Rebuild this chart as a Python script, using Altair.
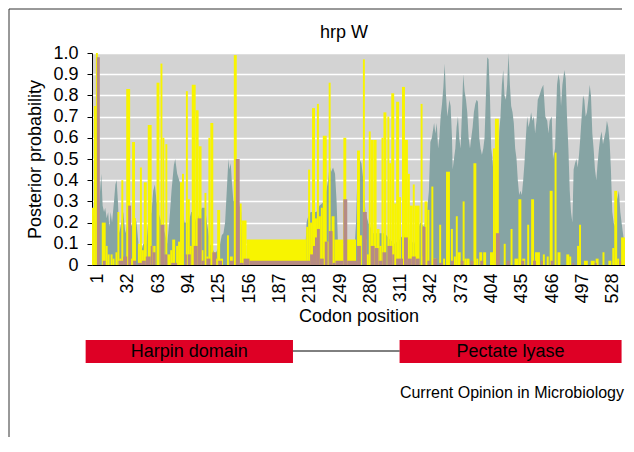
import altair as alt
import pandas as pd

# ---------------- data ----------------
chart_title = "hrp W"
credit = "Current Opinion in Microbiology"
x_ticks = [1, 32, 63, 94, 125, 156, 187, 218, 249, 280, 311, 342, 373, 404, 435, 466, 497, 528]
y_ticks = [0, 0.1, 0.2, 0.3, 0.4, 0.5, 0.6, 0.7, 0.8, 0.9, 1.0]

# grey-teal area series: vertices (codon, posterior probability)
teal_codon = [1, 4, 8, 10, 11.4, 12.8, 14, 15.5, 17, 18.2, 19.6, 21, 23, 24.4, 25.7, 27, 28.4, 30.5, 32.5, 34.5,
              37, 40, 42.7, 44.8, 46, 48, 50, 53, 56, 58, 61.4, 63.1, 64.8, 66.5, 68.2, 71.6, 75, 77.4, 79.5, 81.8,
              84.2, 85.6, 87.6, 89.7, 91, 92, 95, 99.2, 102, 104.3, 107, 112.8, 116.2, 118, 121.3, 126.4, 131.5, 133.2, 134.9, 136.6,
              138.3, 140, 141, 142.4, 143.4, 145.1, 148, 150.2, 153, 154.3, 156, 218, 219.9, 221, 224, 230, 233, 238, 242, 243.4,
              245, 247, 249, 250.6, 252, 254, 268, 270.5, 272, 274, 276, 278, 280, 283, 288, 295, 300, 305, 310, 315,
              320, 325, 330, 333, 336, 340, 343, 345, 346.5, 348, 350.3, 351.6, 353, 354.4, 355.7, 357, 358.4, 359.8, 361.1, 362.5,
              363.8, 365.2, 365.9, 367.2, 368.6, 369.3, 370.6, 372, 373.3, 374.7, 376, 377.4, 378.8, 380.1, 381.5, 382.9, 384.2, 385.6, 387, 388.3,
              389.7, 391, 392.4, 393.8, 395.1, 396.5, 397.8, 399.2, 400.6, 401.9, 403.3, 404.6, 406, 407.4, 408.7, 410, 411.4, 415.5, 416.9, 418.2,
              419.6, 421, 422.3, 423.7, 425, 426.4, 427.8, 429.1, 430.5, 431.8, 433.2, 434.6, 435.9, 437.3, 438.6, 440, 441.4, 442.7, 444.1, 445.5,
              446.8, 448.2, 449.5, 450.9, 452.3, 453.6, 455, 456.3, 458, 460, 462, 464, 466, 467.2, 468.5, 470.6, 471.9, 474, 476, 477.4,
              478.7, 480.1, 481.5, 483.5, 484.9, 486.2, 487.6, 489, 490.3, 491.7, 493, 494.4, 495.8, 497.1, 498.5, 499.8, 501.2, 502.6, 503.9, 505.3,
              506.6, 508, 509.4, 510.7, 512.1, 513.4, 514.8, 516.2, 517.5, 518.9, 520.2, 521.6, 523, 524.3, 525.7, 527, 528.4, 529.8, 531.1, 532.5,
              533.9, 535.2, 536.6, 537.9, 539.3, 540.7, 542, 543.4, 545]
teal_value = [0.25, 0.2, 0.3, 0.43, 0.28, 0.25, 0.27, 0.22, 0.25, 0.18, 0.25, 0.2, 0.3, 0.38, 0.4, 0.3, 0.15, 0.2, 0.25, 0.15,
              0.2, 0.18, 0.2, 0.22, 0.2, 0.1, 0.05, 0.1, 0.1, 0.2, 0.25, 0.35, 0.38, 0.3, 0.25, 0.2, 0.15, 0.1, 0.2, 0.35,
              0.47, 0.5, 0.43, 0.4, 0.38, 0.3, 0.2, 0.2, 0.25, 0.25, 0.2, 0.27, 0.27, 0.2, 0.1, 0.05, 0.1, 0.14, 0.15, 0.2,
              0.35, 0.5, 0.45, 0.48, 0.4, 0.3, 0.33, 0.3, 0.25, 0.05, 0, 0, 0.2, 0.22, 0.25, 0.25, 0.28, 0.3, 0.4, 0.47,
              0.44, 0.46, 0.43, 0.3, 0.1, 0, 0, 0.2, 0.45, 0.5, 0.48, 0.4, 0.25, 0.2, 0.15, 0.15, 0.15, 0.12, 0.1, 0.12,
              0.15, 0.12, 0.1, 0.15, 0.2, 0.18, 0.25, 0.35, 0.58, 0.6, 0.67, 0.62, 0.67, 0.55, 0.6, 0.7, 0.76, 0.84, 0.95, 0.8,
              0.7, 0.75, 0.78, 0.75, 0.6, 0.45, 0.5, 0.55, 0.65, 0.7, 0.6, 0.55, 0.72, 0.9, 0.82, 0.78, 0.72, 0.6, 0.55, 0.6,
              0.65, 0.72, 0.76, 0.78, 0.77, 0.6, 0.55, 0.52, 0.55, 0.6, 0.8, 0.98, 0.97, 0.8, 0.55, 0.5, 0.4, 0.4, 0.63, 0.7,
              0.85, 0.92, 0.8, 0.78, 0.85, 1.0, 0.85, 0.75, 0.72, 0.67, 0.55, 0.5, 0.4, 0.33, 0.35, 0.33, 0.4, 0.48, 0.6, 0.7,
              0.65, 0.68, 0.72, 0.68, 0.7, 0.62, 0.68, 0.78, 0.8, 0.83, 0.85, 0.7, 0.68, 0.62, 0.68, 0.7, 0.5, 0.55, 0.85, 0.9,
              0.87, 0.75, 0.85, 0.92, 0.88, 0.7, 0.55, 0.35, 0.25, 0.2, 0.45, 0.48, 0.5, 0.46, 0.52, 0.6, 0.7, 0.8, 0.78, 0.7,
              0.72, 0.78, 0.85, 0.8, 0.62, 0.55, 0.45, 0.4, 0.48, 0.55, 0.6, 0.63, 0.57, 0.6, 0.63, 0.68, 0.65, 0.58, 0.45, 0.25,
              0.2, 0.18, 0.3, 0.32, 0.35, 0.25, 0.2, 0.15, 0.1]

# yellow bar series: runs of codons (first, last) with their value
yellow_first = [1, 3, 5, 11, 15, 17, 20, 22, 25, 27, 29, 31, 36, 40, 42, 45, 48, 50, 52, 54,
                58, 62, 64, 67, 71, 73, 76, 78, 81, 83, 87, 89, 91, 93, 97, 99, 101, 103, 107, 110,
                113, 116, 118, 120, 122, 125, 127, 129, 132, 139, 142, 146, 152, 154, 159, 220, 222, 224, 226, 229,
                231, 233, 235, 237, 241, 243, 246, 249, 258, 261, 272, 275, 278, 280, 282, 284, 286, 289, 292, 295,
                297, 299, 303, 305, 307, 310, 312, 315, 318, 321, 324, 326, 329, 331, 337, 339, 341, 344, 348, 350,
                356, 360, 363, 368, 371, 373, 375, 380, 382, 384, 391, 394, 397, 401, 408, 411, 413, 422, 429, 433,
                437, 441, 446, 450, 454, 456, 462, 466, 469, 474, 477, 486, 489, 497, 499, 504, 511, 516, 523, 529,
                533, 535, 538, 542]
yellow_last = [2, 4, 6, 14, 16, 18, 21, 23, 26, 28, 30, 32, 39, 41, 44, 45, 49, 51, 53, 56,
               61, 63, 65, 69, 72, 74, 77, 80, 82, 85, 88, 90, 92, 94, 98, 100, 102, 106, 109, 112,
               114, 117, 119, 121, 124, 126, 128, 131, 134, 140, 144, 148, 153, 158, 219, 221, 223, 225, 228, 230,
               232, 234, 236, 240, 242, 244, 248, 257, 260, 270, 274, 276, 279, 281, 283, 285, 288, 291, 294, 296,
               298, 301, 304, 306, 309, 311, 314, 316, 320, 323, 325, 328, 330, 335, 338, 340, 343, 345, 349, 352,
               357, 361, 366, 369, 372, 374, 377, 381, 383, 386, 393, 395, 399, 403, 410, 412, 416, 423, 430, 436,
               439, 443, 447, 452, 455, 458, 463, 467, 471, 475, 479, 488, 490, 498, 500, 507, 514, 518, 524, 531,
               534, 537, 539, 545]
yellow_value = [0.27, 0.75, 1.0, 0.2, 0.09, 0.05, 0.05, 0.03, 0.06, 0.25, 0.03, 0.4, 0.83, 0.03, 0.58, 0.22, 0.1, 0.46, 0.07, 0.39,
                0.66, 0.09, 0.09, 0.86, 0.95, 0.6, 0.57, 0.05, 0.07, 0.12, 0.09, 0.11, 0.39, 0.43, 0.82, 0.31, 0.09, 0.85, 0.73, 0.56,
                0.07, 0.34, 0.04, 0.6, 0.67, 0.06, 0.03, 0.26, 0.03, 0.14, 0.04, 0.99, 0.29, 0.21, 0.12, 0.18, 0.45, 0.2, 0.74, 0.22,
                0.76, 0.23, 0.27, 0.61, 0.11, 0.86, 0.23, 0.12, 0.6, 0.12, 0.54, 0.14, 0.97, 0.12, 0.05, 0.63, 0.59, 0.59, 0.17, 0.09,
                0.6, 0.72, 0.7, 0.48, 0.81, 0.29, 0.77, 0.32, 0.84, 0.59, 0.43, 0.28, 0.38, 0.28, 0.76, 0.04, 0.3, 0.26, 0.37, 0.03,
                0.19, 0.03, 0.44, 0.17, 0.04, 0.23, 0.06, 0.3, 0.03, 0.03, 0.48, 0.03, 0.06, 0.06, 0.06, 0.55, 0.69, 0.1, 0.17, 0.03,
                0.31, 0.03, 0.19, 0.31, 0.06, 0.06, 0.05, 0.04, 0.35, 0.53, 0.06, 0.05, 0.04, 0.09, 0.19, 0.02, 0.02, 0.03, 0.06, 0.02,
                0.08, 0.35, 0.03, 0.13]

# mauve bar series: runs of codons (first, last) with their value
brown_first = [6, 12, 28, 33, 38, 43, 48, 52, 56, 61, 63, 71, 75, 82, 96, 99, 105, 109, 113, 118,
               124, 130, 142, 148, 152, 156, 162, 224, 227, 229, 231, 234, 239, 243, 247, 250, 258, 262, 272, 278,
               286, 290, 294, 298, 303, 308, 312, 320, 324, 328, 332, 339, 344, 350, 356, 368, 378, 388, 398, 414,
               425, 440, 452, 460, 470, 492, 515, 540]
brown_last = [8, 14, 32, 36, 40, 45, 51, 55, 60, 62, 65, 74, 77, 87, 97, 101, 108, 112, 115, 121,
              127, 133, 145, 151, 155, 161, 223, 226, 228, 230, 233, 237, 241, 246, 249, 257, 261, 271, 275, 281,
              289, 293, 297, 301, 307, 309, 318, 323, 327, 331, 335, 341, 346, 353, 359, 370, 380, 390, 400, 417,
              427, 442, 454, 461, 472, 493, 516, 541]
brown_value = [0.98, 0.02, 0.02, 0.04, 0.28, 0.02, 0.01, 0.02, 0.04, 0.09, 0.06, 0.19, 0.05, 0.01, 0.05, 0.05, 0.09, 0.22, 0.02, 0.03,
               0.06, 0.02, 0.02, 0.5, 0.01, 0.03, 0.02, 0.05, 0.09, 0.13, 0.17, 0.03, 0.11, 0.16, 0.01, 0.02, 0.31, 0.02, 0.09, 0.25,
               0.09, 0.08, 0.02, 0.06, 0.09, 0.05, 0.03, 0.13, 0.03, 0.04, 0.03, 0.18, 0.02, 0.03, 0.01, 0.02, 0.02, 0.02, 0.02, 0.15,
               0.02, 0.02, 0.02, 0.02, 0.02, 0.01, 0.01, 0.02]

# protein domain diagram (codon ranges)
domain_name = ["Harpin domain", "Pectate lyase"]
domain_first = [-6, 315]
domain_last = [206, 542]
linker_first = [206]
linker_last = [315]

# ---------------- styling ----------------
TEAL = "#86a4a4"
YELLOW = "#f8f400"
BROWN = "#b68b84"
PLOT_BG = "#d3d3d3"
RED = "#de0025"
FONT = "Liberation Sans"
W, H = 533, 212

xs = alt.Scale(domain=[0.5, 545.5], nice=False, zero=False)
ys = alt.Scale(domain=[0, 1], nice=False, zero=True)

X_AXIS = alt.Axis(values=x_ticks, labelAngle=270, labelOffset=5, ticks=False,
                  labelPadding=8, grid=False, domainColor="black", domainWidth=1.2,
                  labelFontSize=18, titleFontSize=18, titlePadding=4, labelFlush=False,
                  labelOverlap=False, labelColor="black", titleColor="black",
                  labelFont=FONT, titleFont=FONT, titleFontWeight="normal")
Y_AXIS = alt.Axis(values=y_ticks, labelExpr="datum.value == 0 ? '0' : format(datum.value, '.1f')",
                  tickSize=5, tickColor="black", domainColor="black", gridColor="white",
                  gridWidth=1.5, labelFontSize=18, titleFontSize=18, labelPadding=9,
                  titlePadding=8, labelOverlap=False, labelColor="black", titleColor="black",
                  labelFont=FONT, titleFont=FONT, titleFontWeight="normal")
XT = "Codon position"
YT = "Posterior probability"

teal_df = pd.DataFrame({"codon": teal_codon, "p": teal_value})
yellow_df = pd.DataFrame({"first": yellow_first, "last": yellow_last, "p": yellow_value})
brown_df = pd.DataFrame({"first": brown_first, "last": brown_last, "p": brown_value})
dom_df = pd.DataFrame({"name": domain_name, "first": domain_first, "last": domain_last})
link_df = pd.DataFrame({"first": linker_first, "last": linker_last})

area = alt.Chart(teal_df).mark_area(color=TEAL, interpolate="linear").encode(
    x=alt.X("codon:Q", scale=xs, title=XT, axis=X_AXIS),
    y=alt.Y("p:Q", scale=ys, title=YT, axis=Y_AXIS, stack=None),
)


def bars(df, color):
    return alt.Chart(df).transform_calculate(
        x0="datum.first - 0.5", x1="datum.last + 0.5"
    ).mark_rect(color=color).encode(
        x=alt.X("x0:Q", scale=xs, title=XT, axis=X_AXIS),
        x2="x1:Q",
        y=alt.Y("p:Q", scale=ys, title=YT, axis=Y_AXIS),
        y2=alt.datum(0),
    )


yellow = bars(yellow_df, YELLOW)
brown = bars(brown_df, BROWN)

dom_rect = alt.Chart(dom_df).mark_rect(color=RED).encode(
    x=alt.X("first:Q", scale=xs, title=XT, axis=X_AXIS), x2="last:Q",
    y=alt.value(287), y2=alt.value(310),
)
dom_text = alt.Chart(dom_df).transform_calculate(mid="(datum.first + datum.last) / 2").mark_text(
    fontSize=18, color="black", baseline="middle", align="center", font=FONT
).encode(x=alt.X("mid:Q", scale=xs, title=XT, axis=X_AXIS), y=alt.value(299), text="name:N")
linker = alt.Chart(link_df).mark_rule(color="black", strokeWidth=1).encode(
    x=alt.X("first:Q", scale=xs, title=XT, axis=X_AXIS), x2="last:Q", y=alt.value(298)
)

title_df = pd.DataFrame({"t": [chart_title]})
credit_df = pd.DataFrame({"t": [credit]})
title_mark = alt.Chart(title_df).mark_text(fontSize=18, color="black", align="center", baseline="middle",
                                           font=FONT).encode(
    text="t:N", x=alt.value(252), y=alt.value(-20))
credit_mark = alt.Chart(credit_df).mark_text(fontSize=16, color="black", align="right", baseline="middle",
                                             font=FONT).encode(
    text="t:N", x=alt.value(532), y=alt.value(340))

frame_df = pd.DataFrame({"k": [0]})
frame_left = alt.Chart(frame_df).mark_rule(color="#333333", strokeWidth=1).encode(
    x=alt.value(-83), y=alt.value(-44), y2=alt.value(384))
frame_top = alt.Chart(frame_df).mark_rule(color="#333333", strokeWidth=1).encode(
    x=alt.value(-83), x2=alt.value(530), y=alt.value(-44))

chart = alt.layer(
    area, yellow, brown, dom_rect, linker, dom_text, title_mark, credit_mark, frame_left, frame_top
).properties(width=W, height=H, padding=0, background="white").configure_view(
    fill=PLOT_BG, strokeWidth=0
)

chart.save("out.html", embed_options={"renderer": "svg", "actions": False})
